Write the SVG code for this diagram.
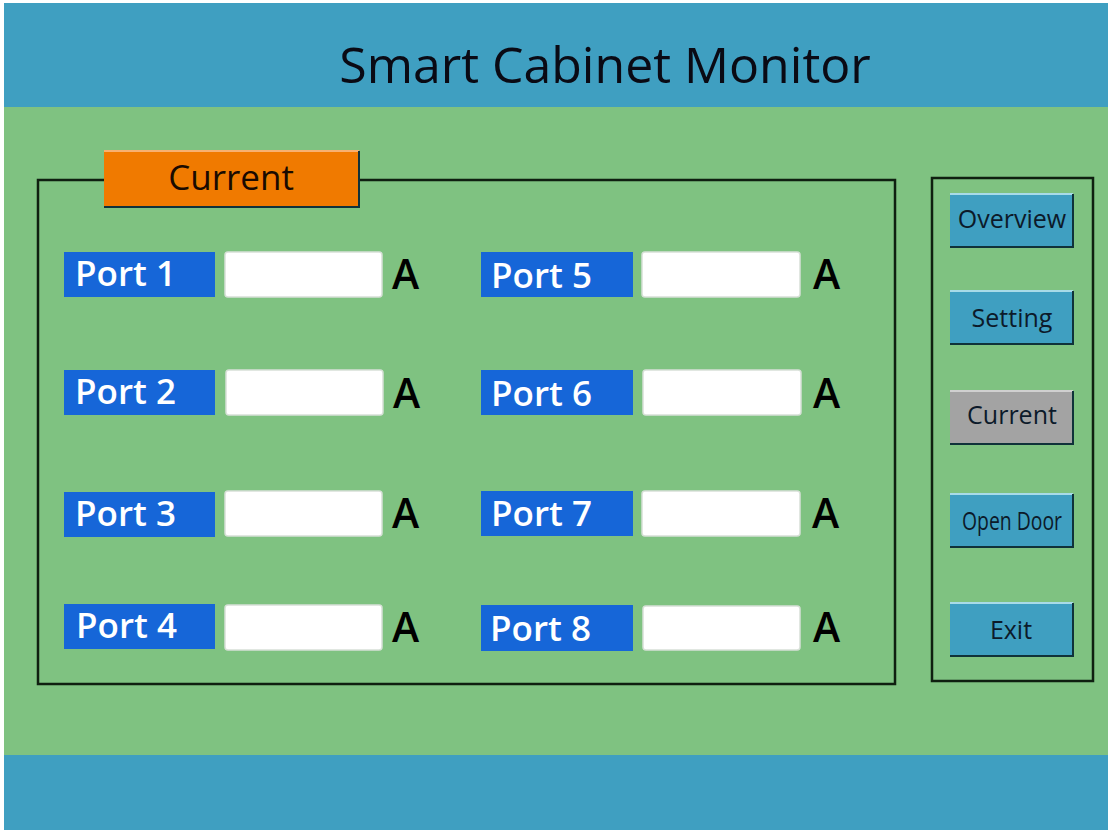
<svg xmlns="http://www.w3.org/2000/svg" width="1112" height="832" viewBox="0 0 1112 832">
  <style>
    .band { fill: #3f9fc1; }
    .body { fill: #7fc281; }
    .frame { fill: none; stroke: #0f1f10; stroke-width: 2.5; }
    .title { font-family: "Open Sans", "Noto Sans", sans-serif; font-size: 50px; fill: #0a0a14; text-anchor: middle; }
    .tab { fill: #f07a00; }
    .tabtxt { font-family: "Open Sans", "Noto Sans", sans-serif; font-size: 35px; fill: #1a0a00; text-anchor: middle; }
    .plabel { fill: #1666d8; }
    .ptxt { font-family: "Open Sans", "Noto Sans", sans-serif; font-size: 35px; font-weight: 600; fill: #ffffff; }
    .field { fill: #ffffff; stroke: #d8e0d8; stroke-width: 1.5; }
    .unit { font-family: "Open Sans", "Noto Sans", sans-serif; font-size: 41px; font-weight: 600; fill: #000000; }
    .btn { fill: #3f9fc1; }
    .btn-on { fill: #a3a3a3; }
    .hi { stroke: #a8dbe8; stroke-width: 2; }
    .sh { stroke: #10323a; stroke-width: 2; fill: none; }
    .btxt { font-family: "Open Sans", "Noto Sans", sans-serif; font-size: 25px; fill: #0c1a2a; text-anchor: middle; }
  </style>

  <!-- screen background -->
  <rect x="0" y="0" width="1112" height="832" fill="#ffffff"/>
  <rect class="band" x="4" y="3" width="1104" height="104"/>
  <rect class="body" x="4" y="107" width="1104" height="648"/>
  <rect class="band" x="4" y="755" width="1104" height="75"/>

  <text class="title" x="605" y="83">Smart Cabinet Monitor</text>

  <!-- current readings frame -->
  <g id="current-panel">
    <rect class="frame" x="38" y="180" width="857" height="504"/>
    <rect class="tab" x="104" y="150" width="255" height="57"/>
    <line x1="104" y1="151" x2="359" y2="151" stroke="#f8b070" stroke-width="2"/>
    <polyline class="sh" points="104,207 359,207 359,151" stroke="#5a2a00"/>
    <text class="tabtxt" x="231" y="190">Current</text>
  </g>

  <g id="port1">
    <rect class="plabel" x="64" y="252" width="151" height="45"/>
    <text class="ptxt" x="75" y="286">Port 1</text>
    <rect class="field" x="225" y="252" width="157" height="45" rx="3"/>
    <text class="unit" x="392" y="289">A</text>
  </g>
  <g id="port2">
    <rect class="plabel" x="64" y="370" width="151" height="45"/>
    <text class="ptxt" x="75" y="404">Port 2</text>
    <rect class="field" x="226" y="370" width="157" height="45" rx="3"/>
    <text class="unit" x="393" y="408">A</text>
  </g>
  <g id="port3">
    <rect class="plabel" x="64" y="492" width="151" height="45"/>
    <text class="ptxt" x="75" y="526">Port 3</text>
    <rect class="field" x="225" y="491" width="157" height="45" rx="3"/>
    <text class="unit" x="392" y="528">A</text>
  </g>
  <g id="port4">
    <rect class="plabel" x="64" y="604" width="151" height="45"/>
    <text class="ptxt" x="76" y="638">Port 4</text>
    <rect class="field" x="225" y="605" width="157" height="45" rx="3"/>
    <text class="unit" x="392" y="642">A</text>
  </g>
  <g id="port5">
    <rect class="plabel" x="481" y="252" width="152" height="45"/>
    <text class="ptxt" x="491" y="288">Port 5</text>
    <rect class="field" x="642" y="252" width="158" height="45" rx="3"/>
    <text class="unit" x="813" y="289">A</text>
  </g>
  <g id="port6">
    <rect class="plabel" x="481" y="370" width="152" height="45"/>
    <text class="ptxt" x="491" y="406">Port 6</text>
    <rect class="field" x="643" y="370" width="158" height="45" rx="3"/>
    <text class="unit" x="813" y="408">A</text>
  </g>
  <g id="port7">
    <rect class="plabel" x="481" y="491" width="152" height="45"/>
    <text class="ptxt" x="491" y="526">Port 7</text>
    <rect class="field" x="642" y="491" width="158" height="45" rx="3"/>
    <text class="unit" x="812" y="528">A</text>
  </g>
  <g id="port8">
    <rect class="plabel" x="481" y="605" width="152" height="46"/>
    <text class="ptxt" x="490" y="641">Port 8</text>
    <rect class="field" x="643" y="606" width="157" height="44" rx="3"/>
    <text class="unit" x="813" y="642">A</text>
  </g>

  <!-- navigation column -->
  <g id="nav-panel">
    <rect class="frame" x="932" y="178" width="161" height="503"/>
  </g>
  <g id="btn-overview">
    <rect class="btn" x="950" y="193" width="123" height="54"/>
    <line class="hi" x1="950" y1="194" x2="1073" y2="194"/>
    <polyline class="sh" points="950,247 1073,247 1073,194"/>
    <text class="btxt" x="1012" y="228">Overview</text>
  </g>
  <g id="btn-setting">
    <rect class="btn" x="950" y="290" width="123" height="54"/>
    <line class="hi" x1="950" y1="291" x2="1073" y2="291"/>
    <polyline class="sh" points="950,344 1073,344 1073,291"/>
    <text class="btxt" x="1012" y="327">Setting</text>
  </g>
  <g id="btn-current">
    <rect class="btn-on" x="950" y="390" width="123" height="54"/>
    <line x1="950" y1="391" x2="1073" y2="391" stroke="#d0d0d0" stroke-width="2"/>
    <polyline class="sh" points="950,444 1073,444 1073,391" stroke="#2a2a2a"/>
    <text class="btxt" x="1012" y="424" fill="#111111">Current</text>
  </g>
  <g id="btn-opendoor">
    <rect class="btn" x="950" y="493" width="123" height="54"/>
    <line class="hi" x1="950" y1="494" x2="1073" y2="494"/>
    <polyline class="sh" points="950,547 1073,547 1073,494"/>
    <text class="btxt" x="1012" y="530" textLength="100" lengthAdjust="spacingAndGlyphs">Open Door</text>
  </g>
  <g id="btn-exit">
    <rect class="btn" x="950" y="602" width="123" height="54"/>
    <line class="hi" x1="950" y1="603" x2="1073" y2="603"/>
    <polyline class="sh" points="950,656 1073,656 1073,603"/>
    <text class="btxt" x="1011" y="639">Exit</text>
  </g>
</svg>
